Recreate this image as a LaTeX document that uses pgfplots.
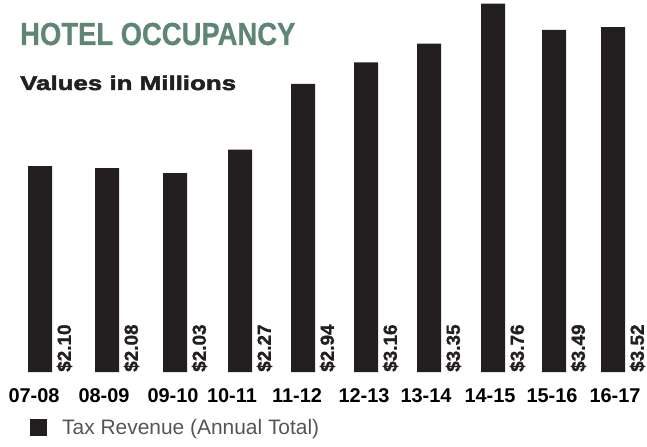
\documentclass[border=0pt]{standalone}
\usepackage{pgfplots}
\pgfplotsset{compat=1.18}
\usepackage{pgfplotstable}
\usepackage{fontspec}
\setmainfont{Liberation Sans}
\newfontfamily\titlefont{Liberation Sans Bold}[FakeStretch=0.86, FakeBold=0.6]
\newfontfamily\heavyfont{Liberation Sans Bold}[FakeStretch=1.3, FakeBold=2.5]
\newfontfamily\boldfont{Liberation Sans Bold}
\newfontfamily\valfont{Liberation Sans Bold}[FakeBold=1.2]
\definecolor{titlegreen}{RGB}{94,134,114}
\definecolor{barblack}{RGB}{35,31,32}
\definecolor{legendgray}{RGB}{85,85,85}

% bar centre (px), value in millions, label text
\pgfplotstableread{
x   v     lab
40  2.10  2.10
107 2.08  2.08
175 2.03  2.03
240 2.27  2.27
303 2.94  2.94
366 3.16  3.16
429 3.35  3.35
493 3.76  3.76
554 3.49  3.49
613 3.52  3.52
}\hoteldata

\begin{document}
\begin{tikzpicture}
\useasboundingbox (0,0) rectangle (647bp,447bp);
\begin{axis}[
    at={(0,75bp)}, anchor=south west,
    scale only axis, width=647bp, height=372bp,
    xmin=0, xmax=647, ymin=0, ymax=3.796,
    axis line style={draw=none},
    major tick length=0pt,
    ytick=\empty,
    xtick={34,104,173,232,297,364,426,490,552,615},
    xticklabels={07-08,08-09,09-10,10-11,11-12,12-13,13-14,14-15,15-16,16-17},
    xticklabel style={font=\boldfont\fontsize{20}{24}\selectfont, anchor=base, yshift=-30bp},
    clip=false,
    legend style={draw=none, fill=none, inner sep=0pt, anchor=west,
        at={(axis description cs:0.0464,-0.150)},
        font=\fontsize{21}{25}\selectfont\color{legendgray}},
    legend image code/.code={\fill[barblack] (0bp,-8.5bp) rectangle (17bp,8.5bp);
        \path[draw=none, fill=none] (0bp,0bp) -- (30bp,0bp);},
]
\addplot[ybar, bar width=24bp, fill=barblack, draw=none]
    table[x=x, y=v] {\hoteldata};
\addlegendentry{Tax Revenue (Annual Total)}
\addplot[draw=none, mark=none, forget plot,
    point meta=explicit symbolic,
    nodes near coords={\valfont\fontsize{19}{22}\selectfont\$\pgfplotspointmeta},
    nodes near coords style={xshift=24.5bp, rotate=90, anchor=west, inner sep=0pt,
        font=\valfont\fontsize{19}{22}\selectfont, text=barblack}]
    table[x=x, y expr=0, meta=lab] {\hoteldata};
\end{axis}
\node[anchor=base west, inner sep=0pt, text=titlegreen,
    font=\titlefont\fontsize{32}{36}\selectfont] at (20bp,402bp) {HOTEL OCCUPANCY};
\node[anchor=base west, inner sep=0pt, text=barblack,
    font=\heavyfont\fontsize{20}{24}\selectfont] at (20bp,357bp) {Values in Millions};
\end{tikzpicture}
\end{document}
